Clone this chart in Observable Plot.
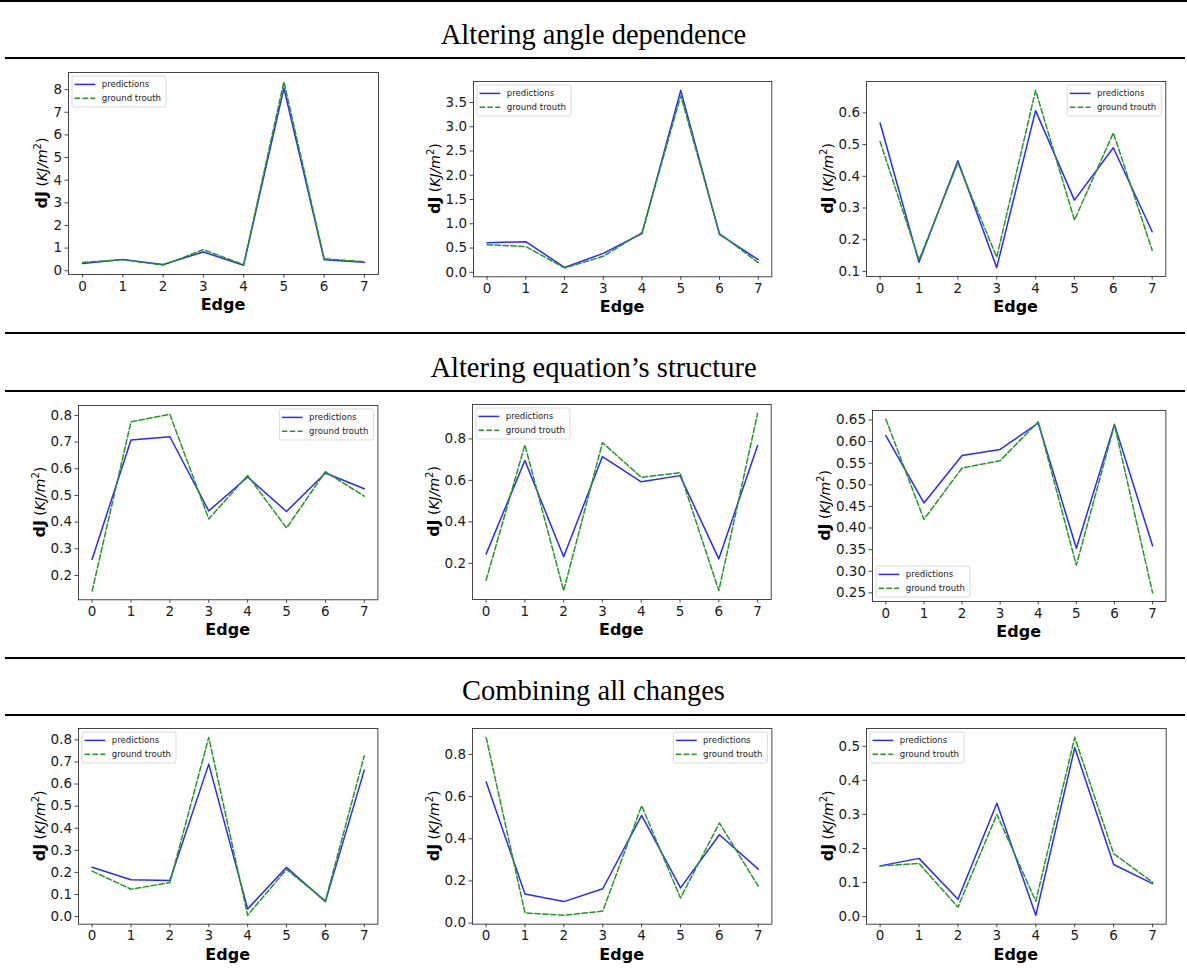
<!DOCTYPE html>
<html><head><meta charset="utf-8">
<script src="https://cdn.jsdelivr.net/npm/d3@7"></script>
<script src="https://cdn.jsdelivr.net/npm/@observablehq/plot@0.6"></script>
<style>
html,body{margin:0;padding:0;background:#fff;}
#page{position:relative;width:1187px;height:968px;overflow:hidden;background:#fff;}
.rule{position:absolute;height:2px;background:#000;}
.sec{position:absolute;left:0;width:1187px;text-align:center;font-family:"Liberation Serif","DejaVu Serif",serif;font-size:28.5px;line-height:32px;height:32px;color:#000;white-space:nowrap;}
.panel{position:absolute;}
</style></head><body><div id="page"></div>
<script>
// ---------- data ----------
const edges = [0, 1, 2, 3, 4, 5, 6, 7];
const sectionTitles = ["Altering angle dependence", "Altering equation\u2019s structure", "Combining all changes"];
const seriesNames = ["predictions", "ground trouth"];

const anglePred1  = [0.32, 0.50, 0.28, 0.83, 0.24, 8.07, 0.49, 0.38];
const angleTruth1 = [0.37, 0.49, 0.25, 0.93, 0.27, 8.35, 0.53, 0.40];
const anglePred2  = [0.61, 0.63, 0.10, 0.39, 0.80, 3.75, 0.78, 0.26];
const angleTruth2 = [0.57, 0.53, 0.09, 0.33, 0.82, 3.64, 0.80, 0.20];
const anglePred3  = [0.568, 0.129, 0.449, 0.112, 0.607, 0.325, 0.490, 0.225];
const angleTruth3 = [0.510, 0.136, 0.442, 0.145, 0.671, 0.262, 0.537, 0.167];

const structPred1  = [0.261, 0.708, 0.720, 0.442, 0.569, 0.440, 0.584, 0.525];
const structTruth1 = [0.142, 0.776, 0.804, 0.412, 0.575, 0.378, 0.589, 0.497];
const structPred2  = [0.245, 0.696, 0.232, 0.715, 0.593, 0.623, 0.222, 0.768];
const structTruth2 = [0.119, 0.771, 0.069, 0.782, 0.615, 0.637, 0.069, 0.923];
const structPred3  = [0.614, 0.458, 0.568, 0.582, 0.643, 0.353, 0.640, 0.359];
const structTruth3 = [0.652, 0.420, 0.539, 0.556, 0.646, 0.314, 0.639, 0.250];

const combPred1  = [0.223, 0.167, 0.163, 0.690, 0.035, 0.223, 0.068, 0.663];
const combTruth1 = [0.206, 0.124, 0.154, 0.811, 0.006, 0.214, 0.072, 0.728];
const combPred2  = [0.670, 0.138, 0.102, 0.163, 0.511, 0.167, 0.419, 0.256];
const combTruth2 = [0.881, 0.048, 0.037, 0.057, 0.557, 0.119, 0.475, 0.175];
const combPred3  = [0.149, 0.171, 0.051, 0.333, 0.004, 0.496, 0.153, 0.097];
const combTruth3 = [0.149, 0.156, 0.028, 0.300, 0.045, 0.526, 0.185, 0.101];

// tick values
const ticksA1 = [0, 1, 2, 3, 4, 5, 6, 7, 8];
const ticksA2 = [0, 0.5, 1.0, 1.5, 2.0, 2.5, 3.0, 3.5];
const ticksA3 = [0.1, 0.2, 0.3, 0.4, 0.5, 0.6];
const ticksS1 = [0.2, 0.3, 0.4, 0.5, 0.6, 0.7, 0.8];
const ticksS2 = [0.2, 0.4, 0.6, 0.8];
const ticksS3 = [0.25, 0.30, 0.35, 0.40, 0.45, 0.50, 0.55, 0.60, 0.65];
const ticksC1 = [0.0, 0.1, 0.2, 0.3, 0.4, 0.5, 0.6, 0.7, 0.8];
const ticksC2 = [0.0, 0.2, 0.4, 0.6, 0.8];
const ticksC3 = [0.0, 0.1, 0.2, 0.3, 0.4, 0.5];

// ---------- layout (positions, not data) ----------
const panels = [
  {pred: anglePred1,  truth: angleTruth1,  ticks: ticksA1, fmt: "d",   box: [67.7, 72.3, 377.7, 274.3],  legend: "upper left"},
  {pred: anglePred2,  truth: angleTruth2,  ticks: ticksA2, fmt: ".1f", box: [472.7, 80.7, 771, 276],     legend: "upper left"},
  {pred: anglePred3,  truth: angleTruth3,  ticks: ticksA3, fmt: ".1f", box: [866, 81, 1165.3, 276],      legend: "upper right"},
  {pred: structPred1, truth: structTruth1, ticks: ticksS1, fmt: ".1f", box: [78.3, 405, 377.7, 599.3],   legend: "upper right"},
  {pred: structPred2, truth: structTruth2, ticks: ticksS2, fmt: ".1f", box: [472.3, 404.3, 771, 599.3],  legend: "upper left"},
  {pred: structPred3, truth: structTruth3, ticks: ticksS3, fmt: ".2f", box: [872.3, 410, 1165.7, 601],   legend: "lower left"},
  {pred: combPred1,   truth: combTruth1,   ticks: ticksC1, fmt: ".1f", box: [78.3, 728.3, 377.7, 924],   legend: "upper left"},
  {pred: combPred2,   truth: combTruth2,   ticks: ticksC2, fmt: ".1f", box: [472.3, 728.3, 771.7, 924],  legend: "upper right"},
  {pred: combPred3,   truth: combTruth3,   ticks: ticksC3, fmt: ".1f", box: [866, 728.3, 1165.7, 924],   legend: "upper left"}
];
const rules = [[0, 0, 1187], [57, 5, 1185], [332, 5, 1185], [390, 5, 1185], [657, 5, 1185], [714, 5, 1185]];
const titleCenters = [35, 368, 691];

const BLUE = "#2a2aff", GREEN = "#229a22";
const TICK_FS = 13.5;
const page = document.getElementById("page");

rules.forEach(([y, x0, x1]) => {
  const d = document.createElement("div");
  d.className = "rule";
  d.style.top = y + "px"; d.style.left = x0 + "px"; d.style.width = (x1 - x0) + "px";
  page.appendChild(d);
});
sectionTitles.forEach((t, i) => {
  const d = document.createElement("div");
  d.className = "sec";
  d.style.top = (titleCenters[i] - 16) + "px";
  d.textContent = t;
  page.appendChild(d);
});

const mL = 80, mR = 12, mT = 10, mB = 50;

panels.forEach(p => {
  const [l, t, r, b] = p.box;
  const fw = r - l, fh = b - t;
  const all = p.pred.concat(p.truth);
  const lo = d3.min(all), hi = d3.max(all), pad = (hi - lo) * 0.05;
  const predRows = edges.map((e, i) => ({edge: e, value: p.pred[i]}));
  const truthRows = edges.map((e, i) => ({edge: e, value: p.truth[i]}));

  const chart = Plot.plot({
    width: fw + mL + mR, height: fh + mT + mB,
    marginLeft: mL, marginRight: mR, marginTop: mT, marginBottom: mB,
    style: {fontFamily: "DejaVu Sans", fontSize: TICK_FS + "px", color: "#1a1a1a", background: "transparent", overflow: "visible"},
    x: {domain: [-0.35, 7.35]},
    y: {domain: [lo - pad, hi + pad]},
    marks: [
      Plot.axisX({ticks: edges, tickFormat: d3.format("d"), tickSize: 3.5, tickPadding: 3, label: null, fontSize: TICK_FS, strokeWidth: 0.8}),
      Plot.axisY({ticks: p.ticks, tickFormat: d3.format(p.fmt), tickSize: 3.5, tickPadding: 3, label: null, fontSize: TICK_FS, strokeWidth: 0.8}),
      Plot.line(predRows, {x: "edge", y: "value", stroke: BLUE, strokeWidth: 1.5}),
      Plot.line(truthRows, {x: "edge", y: "value", stroke: GREEN, strokeWidth: 1.5, strokeDasharray: "5.5,2.4"}),
      Plot.frame({stroke: "#333", strokeWidth: 0.9})
    ]
  });
  const wrap = document.createElement("div");
  wrap.className = "panel";
  wrap.style.left = (l - mL) + "px";
  wrap.style.top = (t - mT) + "px";
  wrap.appendChild(chart);
  page.appendChild(wrap);

  const svg = d3.select(chart);
  // y-axis label
  let minX = mL - 30;
  const g = chart.querySelector('[aria-label="y-axis tick label"]');
  if (g) { const bb = g.getBBox(); minX = bb.x; }
  const lx = minX - 12, cy = mT + fh / 2;
  const yl = svg.append("text")
    .attr("transform", `translate(${lx},${cy}) rotate(-90)`)
    .attr("text-anchor", "middle").attr("fill", "#000")
    .attr("font-family", "DejaVu Sans").attr("font-size", 16);
  yl.append("tspan").attr("font-weight", "bold").text("dJ");
  yl.append("tspan").attr("font-size", 14).text(" (");
  yl.append("tspan").attr("font-size", 14).attr("font-style", "italic").text("KJ/m");
  yl.append("tspan").attr("font-size", 10).attr("dy", -6).text("2");
  yl.append("tspan").attr("font-size", 14).attr("dy", 6).text(")");
  // x-axis label
  svg.append("text")
    .attr("x", mL + fw / 2).attr("y", mT + fh + 36)
    .attr("text-anchor", "middle").attr("fill", "#000")
    .attr("font-family", "DejaVu Sans").attr("font-size", 16).attr("font-weight", "bold")
    .text("Edge");
  // legend
  const lw = 94, lh = 31, off = 4;
  const lxp = p.legend.includes("right") ? mL + fw - off - lw : mL + off;
  const lyp = p.legend.includes("lower") ? mT + fh - off - lh : mT + off;
  const lg = svg.append("g").attr("transform", `translate(${lxp},${lyp})`);
  lg.append("rect").attr("width", lw).attr("height", lh).attr("rx", 2)
    .attr("fill", "#fff").attr("fill-opacity", 0.8).attr("stroke", "#d0d0d0").attr("stroke-width", 0.8);
  [[BLUE, null, 8.4], [GREEN, "5.5,2.4", 22.3]].forEach(([c, dash, yy], i) => {
    const ln = lg.append("line").attr("x1", 2.5).attr("x2", 23.3).attr("y1", yy).attr("y2", yy)
      .attr("stroke", c).attr("stroke-width", 1.5);
    if (dash) ln.attr("stroke-dasharray", dash);
    lg.append("text").attr("x", 29.7).attr("y", yy).attr("dy", "0.35em")
      .attr("text-anchor", "start")
      .attr("font-family", "DejaVu Sans").attr("font-size", 8.6).attr("fill", "#222")
      .text(seriesNames[i]);
  });
});
</script>
</body></html>
